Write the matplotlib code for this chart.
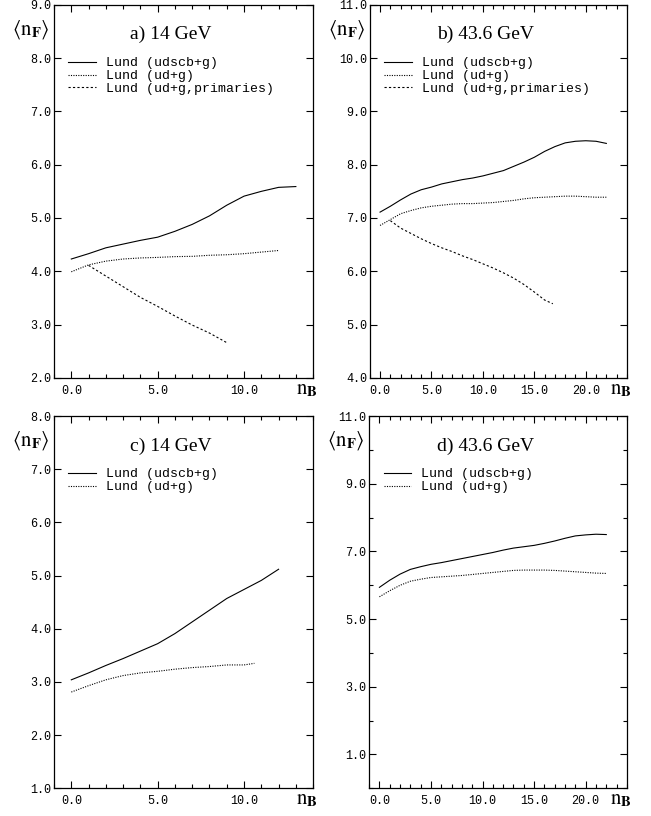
import numpy as np
import matplotlib
matplotlib.use('Agg')
import matplotlib.pyplot as plt
from matplotlib.ticker import MultipleLocator, FormatStrFormatter

plt.rcParams['mathtext.fontset'] = 'stix'

# panel a) 14 GeV
a_x_full = [0, 1, 2, 3, 4, 5, 6, 7, 8, 9, 10, 11, 12, 13]
a_udscb = [4.23, 4.33, 4.44, 4.51, 4.58, 4.64, 4.75, 4.88, 5.04, 5.24, 5.41, 5.50, 5.575, 5.59]
a_x_ud = [0, 1, 2, 3, 4, 5, 6, 7, 8, 9, 10, 11, 12]
a_ud = [3.99, 4.12, 4.19, 4.23, 4.25, 4.26, 4.275, 4.28, 4.30, 4.31, 4.33, 4.36, 4.39]
a_x_prim = [1, 2, 3, 4, 5, 6, 7, 8, 9]
a_prim = [4.11, 3.91, 3.71, 3.51, 3.34, 3.16, 2.99, 2.84, 2.66]

# panel b) 43.6 GeV
b_x = list(range(0, 23))
b_udscb = [7.11, 7.22, 7.34, 7.45, 7.53, 7.58, 7.64, 7.68, 7.72, 7.75, 7.79, 7.84,
           7.89, 7.97, 8.05, 8.14, 8.25, 8.34, 8.41, 8.44, 8.45, 8.44, 8.40]
b_ud = [6.86, 6.97, 7.08, 7.14, 7.19, 7.22, 7.24, 7.26, 7.27, 7.27, 7.28, 7.29,
        7.31, 7.33, 7.36, 7.38, 7.39, 7.40, 7.41, 7.41, 7.40, 7.39, 7.39]
b_x_prim = [1, 2, 3, 4, 5, 6, 7, 8, 9, 10, 11, 12, 13, 14, 15, 16, 16.8]
b_prim = [6.95, 6.81, 6.71, 6.61, 6.52, 6.44, 6.37, 6.29, 6.22, 6.14, 6.06, 5.97,
          5.87, 5.75, 5.61, 5.46, 5.39]

# panel c) 14 GeV
c_x_full = [0, 1, 2, 3, 4, 5, 6, 7, 8, 9, 10, 11, 12]
c_udscb = [3.04, 3.17, 3.31, 3.44, 3.58, 3.72, 3.91, 4.13, 4.35, 4.57, 4.74, 4.91, 5.12]
c_x_ud = [0, 1, 2, 3, 4, 5, 6, 7, 8, 9, 10, 10.6]
c_ud = [2.81, 2.93, 3.04, 3.12, 3.17, 3.20, 3.24, 3.27, 3.29, 3.32, 3.32, 3.35]

# panel d) 43.6 GeV
d_x = list(range(0, 23))
d_udscb = [5.94, 6.15, 6.33, 6.47, 6.55, 6.62, 6.67, 6.73, 6.79, 6.85, 6.91, 6.97,
           7.04, 7.10, 7.14, 7.18, 7.24, 7.31, 7.39, 7.46, 7.49, 7.51, 7.50]
d_ud = [5.66, 5.84, 6.00, 6.12, 6.18, 6.23, 6.25, 6.27, 6.29, 6.32, 6.35, 6.38,
        6.41, 6.44, 6.45, 6.45, 6.45, 6.44, 6.42, 6.40, 6.38, 6.36, 6.35]

lab_full = 'Lund (udscb+g)'
lab_ud = 'Lund (ud+g)'
lab_prim = 'Lund (ud+g,primaries)'

mono = 'Liberation Mono'

fig = plt.figure(figsize=(6.51, 8.16), dpi=100)
axa = fig.add_axes([0.083, 0.537, 0.398, 0.457])
axb = fig.add_axes([0.568, 0.537, 0.395, 0.457])
axc = fig.add_axes([0.083, 0.034, 0.398, 0.456])
axd = fig.add_axes([0.567, 0.034, 0.396, 0.456])


def style(ax, xlim, ylim, ymajor, yminor, title, yoffset=0):
    ax.set_xlim(*xlim)
    ax.set_ylim(*ylim)
    ax.xaxis.set_major_locator(MultipleLocator(5))
    ax.xaxis.set_minor_locator(MultipleLocator(1))
    ax.yaxis.set_major_locator(MultipleLocator(ymajor, offset=yoffset))
    if yminor:
        ax.yaxis.set_minor_locator(MultipleLocator(yminor))
    ax.xaxis.set_major_formatter(FormatStrFormatter('%.1f'))
    ax.yaxis.set_major_formatter(FormatStrFormatter('%.1f'))
    ax.tick_params(which='both', direction='in', top=True, right=True, width=0.8)
    ax.tick_params(which='major', length=5)
    ax.tick_params(which='minor', length=3)
    ax.tick_params(axis='x', pad=5)
    ax.tick_params(axis='y', pad=2)
    for lbl in ax.get_xticklabels() + ax.get_yticklabels():
        lbl.set_family(mono)
        lbl.set_fontsize(8.5)
    for s in ax.spines.values():
        s.set_linewidth(0.9)
    ax.text(0.45, 0.92, title, transform=ax.transAxes, ha='center', va='center',
            fontsize=14, family='Liberation Serif')
    ax.text(-0.09, 0.935, r'$\langle \mathrm{n}_{\mathbf{F}} \rangle$', transform=ax.transAxes,
            ha='center', va='center', fontsize=15)
    ax.text(0.975, -0.03, r'$\mathrm{n}_{\mathbf{B}}$', transform=ax.transAxes,
            ha='center', va='center', fontsize=15, clip_on=False)
    ax.legend(loc='upper left', bbox_to_anchor=(0.02, 0.885), frameon=False,
              prop={'family': mono, 'size': 9.5}, handlelength=2.1,
              handletextpad=0.75, labelspacing=0.05, borderpad=0.2)


lw = 0.8
axa.plot(a_x_full, a_udscb, 'k-', lw=lw, label=lab_full)
axa.plot(a_x_ud, a_ud, 'k', ls=(0, (1, 1.2)), lw=lw, label=lab_ud)
axa.plot(a_x_prim, a_prim, 'k', ls=(0, (2, 2)), lw=lw, label=lab_prim)
style(axa, (-1, 14), (2, 9), 1, None, 'a) 14 GeV')

axb.plot(b_x, b_udscb, 'k-', lw=lw, label=lab_full)
axb.plot(b_x, b_ud, 'k', ls=(0, (1, 1.2)), lw=lw, label=lab_ud)
axb.plot(b_x_prim, b_prim, 'k', ls=(0, (2, 2)), lw=lw, label=lab_prim)
style(axb, (-1, 24), (4, 11), 1, None, 'b) 43.6 GeV')

axc.plot(c_x_full, c_udscb, 'k-', lw=lw, label=lab_full)
axc.plot(c_x_ud, c_ud, 'k', ls=(0, (1, 1.2)), lw=lw, label=lab_ud)
style(axc, (-1, 14), (1, 8), 1, None, 'c) 14 GeV')

axd.plot(d_x, d_udscb, 'k-', lw=lw, label=lab_full)
axd.plot(d_x, d_ud, 'k', ls=(0, (1, 1.2)), lw=lw, label=lab_ud)
style(axd, (-1, 24), (0, 11), 2, 1, 'd) 43.6 GeV', yoffset=1)

fig.savefig('out.png', dpi=100)
